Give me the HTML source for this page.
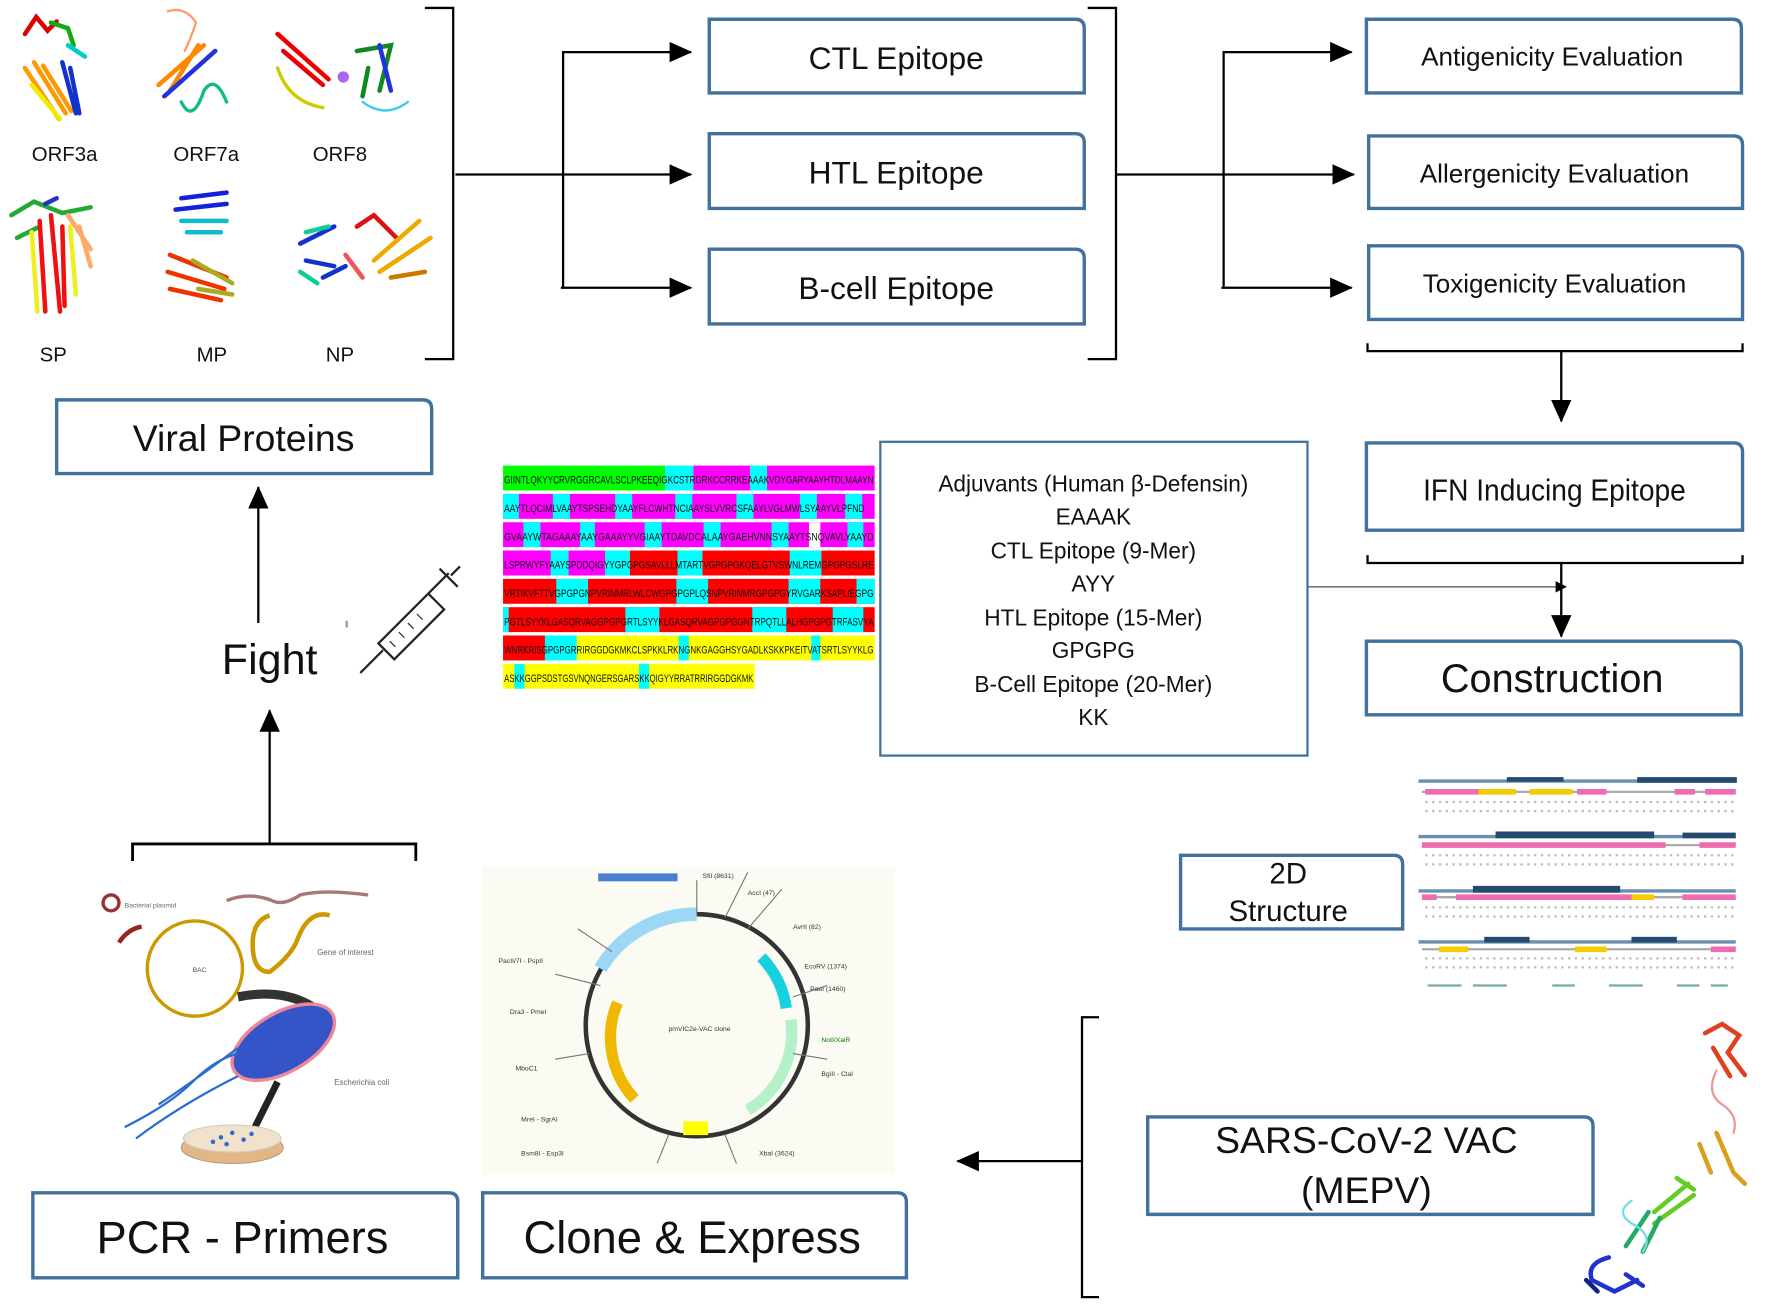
<!DOCTYPE html>
<html><head><meta charset="utf-8"><style>
html,body{margin:0;padding:0;background:#fff}
svg{display:block}
text{font-family:"Liberation Sans",sans-serif;fill:#111}
</style></head><body>
<svg width="1772" height="1305" viewBox="0 0 1564 1152" preserveAspectRatio="none" xmlns="http://www.w3.org/2000/svg">
<defs>
<marker id="ah" markerWidth="10" markerHeight="10" refX="9" refY="5" orient="auto" markerUnits="userSpaceOnUse"><path d="M0,0 L10,5 L0,10Z" fill="#000"/></marker>
<marker id="AH" markerWidth="20" markerHeight="20" refX="19" refY="10" orient="auto" markerUnits="userSpaceOnUse"><path d="M0,1 L20,10 L0,19Z" fill="#000"/></marker>
</defs>
<g fill="#fff" stroke="#41719c" stroke-width="3">
<path d="M626,17 H949 Q957,17 957,25 V82 H626Z"/>
<path d="M626,118 H949 Q957,118 957,126 V184 H626Z"/>
<path d="M626,220 H949 Q957,220 957,228 V286 H626Z"/>
<path d="M1206,17 H1529 Q1537,17 1537,25 V82 H1206Z"/>
<path d="M1208,120 H1530 Q1538,120 1538,128 V184 H1208Z"/>
<path d="M1208,217 H1530 Q1538,217 1538,225 V282 H1208Z"/>
<path d="M1206,391 H1530 Q1538,391 1538,399 V468 H1206Z"/>
<path d="M1206,566 H1529 Q1537,566 1537,574 V631 H1206Z"/>
<path d="M50,353 H373 Q381,353 381,361 V418 H50Z"/>
<rect x="777" y="390" width="377" height="277" stroke-width="2"/>
<path d="M1042,755 H1230 Q1238,755 1238,763 V820 H1042Z"/>
<path d="M1013,986 H1398 Q1406,986 1406,994 V1072 H1013Z"/>
<path d="M29,1053 H396 Q404,1053 404,1061 V1128 H29Z"/>
<path d="M426,1053 H792 Q800,1053 800,1061 V1128 H426Z"/>
</g>
<g text-anchor="middle">
<text x="791" y="61" font-size="28">CTL Epitope</text>
<text x="791" y="162" font-size="28">HTL Epitope</text>
<text x="791" y="264" font-size="28">B-cell Epitope</text>
<text x="1370" y="58" font-size="23">Antigenicity Evaluation</text>
<text x="1372" y="161" font-size="23">Allergenicity Evaluation</text>
<text x="1372" y="258" font-size="23">Toxigenicity Evaluation</text>
<text x="1372" y="442" font-size="27" transform="translate(1372 0) scale(0.92 1) translate(-1372 0)">IFN Inducing Epitope</text>
<text x="1370" y="611" font-size="35">Construction</text>
<text x="215" y="398" font-size="33">Viral Proteins</text>
<text x="238" y="595" font-size="38">Fight</text>
<text x="1137" y="780" font-size="26">2D</text>
<text x="1137" y="813" font-size="26">Structure</text>
<text x="1206" y="1018" font-size="33">SARS-CoV-2 VAC</text>
<text x="1206" y="1062" font-size="33">(MEPV)</text>
<text x="214" y="1106" font-size="40">PCR - Primers</text>
<text x="611" y="1106" font-size="40">Clone &amp; Express</text>
<g font-size="20">
<text x="965" y="434" font-family="Liberation Serif">Adjuvants (Human β-Defensin)</text>
<text x="965" y="463">EAAAK</text>
<text x="965" y="493">CTL Epitope (9-Mer)</text>
<text x="965" y="522">AYY</text>
<text x="965" y="552">HTL Epitope (15-Mer)</text>
<text x="965" y="581">GPGPG</text>
<text x="965" y="611">B-Cell Epitope (20-Mer)</text>
<text x="965" y="640">KK</text>
</g>
<g font-size="18">
<text x="57" y="142">ORF3a</text><text x="182" y="142">ORF7a</text><text x="300" y="142">ORF8</text>
<text x="47" y="319">SP</text><text x="187" y="319">MP</text><text x="300" y="319">NP</text>
</g>
</g>
<!-- connectors -->
<g stroke="#000" stroke-width="2" fill="none">
<path d="M375,7 H400 V317 H375"/>
<path d="M402,154 H610" marker-end="url(#AH)"/>
<path d="M497,45 V254"/>
<path d="M497,46 H610" marker-end="url(#AH)"/>
<path d="M495,254 H610" marker-end="url(#AH)"/>
<path d="M960,7 H985 V317 H960"/>
<path d="M985,154 H1195" marker-end="url(#AH)"/>
<path d="M1080,45 V253"/>
<path d="M1080,46 H1193" marker-end="url(#AH)"/>
<path d="M1078,254 H1193" marker-end="url(#AH)"/>
<path d="M1207,303 V310 H1538 V303"/>
<path d="M1378,310 V372" marker-end="url(#AH)"/>
<path d="M1207,490 V497 H1538 V490"/>
<path d="M1378,497 V562" marker-end="url(#AH)"/>
<path d="M1155,518 H1382" stroke="#777" stroke-width="1.5" marker-end="url(#ah)"/>
<path d="M228,550 V430" marker-end="url(#AH)"/>
<path d="M238,745 V627" marker-end="url(#AH)"/>
<path d="M117,760 V745 H367 V760" stroke-width="2.5"/>
<path d="M970,898 H955 V1145 H970"/>
<path d="M955,1025 H845" marker-end="url(#AH)"/>
</g>
<!-- sequence block -->
<g>
<rect x="444" y="411" width="143" height="22" fill="#0f0"/><rect x="587" y="411" width="25" height="22" fill="#0ff"/><rect x="612" y="411" width="50" height="22" fill="#f0f"/><rect x="662" y="411" width="15" height="22" fill="#0ff"/><rect x="677" y="411" width="95" height="22" fill="#f0f"/>
<rect x="444" y="436" width="328" height="22" fill="#f0f"/>
<rect x="444" y="436" width="14" height="22" fill="#0ff"/><rect x="488" y="436" width="15" height="22" fill="#0ff"/><rect x="543" y="436" width="15" height="22" fill="#0ff"/><rect x="596" y="436" width="15" height="22" fill="#0ff"/><rect x="650" y="436" width="15" height="22" fill="#0ff"/><rect x="706" y="436" width="15" height="22" fill="#0ff"/><rect x="746" y="436" width="15" height="22" fill="#0ff"/>
<rect x="444" y="461" width="328" height="22" fill="#f0f"/>
<rect x="462" y="461" width="15" height="22" fill="#0ff"/><rect x="512" y="461" width="13" height="22" fill="#0ff"/><rect x="569" y="461" width="15" height="22" fill="#0ff"/><rect x="621" y="461" width="15" height="22" fill="#0ff"/><rect x="681" y="461" width="15" height="22" fill="#0ff"/><rect x="714" y="461" width="10" height="22" fill="#fff"/><rect x="748" y="461" width="14" height="22" fill="#0ff"/>
<rect x="444" y="486" width="328" height="22" fill="#f00"/>
<rect x="444" y="486" width="42" height="22" fill="#f0f"/><rect x="486" y="486" width="16" height="22" fill="#0ff"/><rect x="502" y="486" width="32" height="22" fill="#f0f"/><rect x="534" y="486" width="22" height="22" fill="#0ff"/><rect x="598" y="486" width="22" height="22" fill="#0ff"/><rect x="697" y="486" width="28" height="22" fill="#0ff"/>
<rect x="444" y="511" width="328" height="22" fill="#f00"/>
<rect x="491" y="511" width="28" height="22" fill="#0ff"/><rect x="597" y="511" width="28" height="22" fill="#0ff"/><rect x="696" y="511" width="28" height="22" fill="#0ff"/><rect x="756" y="511" width="16" height="22" fill="#0ff"/>
<rect x="444" y="536" width="328" height="22" fill="#f00"/>
<rect x="444" y="536" width="5" height="22" fill="#0ff"/><rect x="552" y="536" width="30" height="22" fill="#0ff"/><rect x="664" y="536" width="30" height="22" fill="#0ff"/><rect x="735" y="536" width="27" height="22" fill="#0ff"/>
<rect x="444" y="561" width="328" height="22" fill="#ff0"/>
<rect x="444" y="561" width="37" height="22" fill="#f00"/><rect x="481" y="561" width="28" height="22" fill="#0ff"/><rect x="599" y="561" width="9" height="22" fill="#0ff"/><rect x="716" y="561" width="8" height="22" fill="#0ff"/>
<rect x="444" y="586" width="222" height="22" fill="#ff0"/>
<rect x="454" y="586" width="9" height="22" fill="#0ff"/><rect x="564" y="586" width="9" height="22" fill="#0ff"/>
<g font-size="10" font-family="Liberation Sans Narrow,Liberation Sans,sans-serif" textLength="326">
<text x="445" y="427" textLength="326" lengthAdjust="spacingAndGlyphs">GIINTLQKYYCRVRGGRCAVLSCLPKEEQIGKCSTRGRKCCRRKEAAAKVDYGARYAAYHTDLMAAYN</text>
<text x="445" y="452" textLength="318" lengthAdjust="spacingAndGlyphs">AAYTLQCIMLVAAYTSPSEHDYAAYFLCWHTNCIAAYSLVVRCSFAAYLVGLMWLSYAAYVLPFND</text>
<text x="445" y="477" textLength="326" lengthAdjust="spacingAndGlyphs">GVAAYWTAGAAAYAAYGAAAYYVGIAAYTDAVDCALAAYGAEHVNNSYAAYTSNQVAVLYAAYD</text>
<text x="445" y="502" textLength="326" lengthAdjust="spacingAndGlyphs">LSPRWYFYAAYSPDDQIGYYGPGPGSAVLLLMTARTVGPGPGKQELGTVSWNLREMGPGPGSLRE</text>
<text x="445" y="527" textLength="326" lengthAdjust="spacingAndGlyphs">VRTIKVFTTVGPGPGNPVRINMRLWLCWGPGPGPLQSNPVRINMRGPGPGYRVGARKSAPLIEGPG</text>
<text x="445" y="552" textLength="326" lengthAdjust="spacingAndGlyphs">PGTLSYYKLGASQRVAGGPGPGRTLSYYKLGASQRVAGPGPGGNTRPQTLLALHGPGPGTRFASVYA</text>
<text x="445" y="577" textLength="326" lengthAdjust="spacingAndGlyphs">WNRKRISGPGPGRRIRGGDGKMKCLSPKKLRKNGNKGAGGHSYGADLKSKKPKEITVATSRTLSYYKLG</text>
<text x="445" y="602" textLength="220" lengthAdjust="spacingAndGlyphs">ASKKGGPSDSTGSVNQNGERSGARSKKQIGYYRRATRRIRGGDGKMK</text>
</g>
</g>
<!-- syringe -->
<g stroke="#222" stroke-width="2" fill="none">
<path d="M318,594 L338,574"/>
<path d="M334,568 L378,524 L392,538 L348,582Z" fill="#fff"/>
<path d="M378,524 L396,506 M388,502 L404,518 M398,508 L406,500"/>
<path d="M344,566 l5,5 M352,558 l5,5 M360,550 l5,5 M368,542 l5,5" stroke-width="1"/>
<path d="M306,548 v6" stroke="#999"/>
</g>
<!-- protein art (approx) -->
<g fill="none" stroke-width="4" stroke-linecap="round">
<path d="M22,30 l10,-15 l10,12 l8,-8" stroke="#d00"/>
<path d="M45,20 l15,5 l5,15" stroke="#1a1"/>
<path d="M22,60 l30,45 M30,55 l28,45 M38,58 l25,40" stroke="#f90"/>
<path d="M28,75 l25,30" stroke="#ee0"/>
<path d="M55,55 l12,45 M62,60 l8,40" stroke="#13c"/>
<path d="M60,40 l15,10" stroke="#0cc"/>
<path d="M148,10 q15,-5 25,10 q-5,15 -10,25" stroke="#f96" stroke-width="2"/>
<path d="M140,75 l40,-35 M150,80 l25,-40" stroke="#f80"/>
<path d="M145,85 l45,-40" stroke="#23d"/>
<path d="M160,90 q10,20 20,-10 q10,-15 20,10" stroke="#1b8" stroke-width="3"/>
<path d="M245,30 l45,40 M250,45 l35,30" stroke="#e00"/>
<path d="M245,60 q10,30 40,35" stroke="#cc0" stroke-width="3"/>
<path d="M315,45 l30,-5 l-10,40 M325,60 l-5,25" stroke="#182"/>
<path d="M335,40 l10,40" stroke="#23d"/>
<path d="M320,90 q20,15 40,0" stroke="#3ce" stroke-width="2"/>
<circle cx="303" cy="68" r="5" fill="#a6e" stroke="none"/>
<path d="M10,190 l20,-12 l25,10 l25,-5 M15,210 l20,-10" stroke="#2a3"/>
<path d="M35,195 l5,80 M45,190 l8,85 M55,200 l2,70" stroke="#e11"/>
<path d="M28,205 l5,70 M62,200 l5,60" stroke="#ee2"/>
<path d="M60,190 l20,30 M70,200 l10,35" stroke="#fa6"/>
<path d="M40,180 l10,-5" stroke="#23c"/>
<path d="M160,175 l40,-5 M155,185 l45,-5" stroke="#12d"/>
<path d="M160,195 l40,0 M165,205 l30,0" stroke="#1bc"/>
<path d="M150,225 l50,20 M148,240 l50,15 M150,255 l45,10" stroke="#e30"/>
<path d="M170,230 l35,20 M175,255 l30,5" stroke="#aa2"/>
<path d="M265,215 l30,-15 M270,230 l25,5 M285,245 l20,-10" stroke="#13c"/>
<path d="M265,240 l15,10 M290,200 l-20,5" stroke="#1c9"/>
<path d="M315,200 l15,-10 l20,20" stroke="#d11"/>
<path d="M330,230 l40,-35 M335,240 l45,-30" stroke="#ea0"/>
<path d="M345,245 l30,-5" stroke="#c70"/>
<path d="M305,225 l15,20" stroke="#e55"/>
</g>
<!-- bacteria image -->
<g fill="none">
<circle cx="98" cy="797" r="7" stroke="#933" stroke-width="3"/>
<text x="110" y="801" font-size="6" fill="#666" style="fill:#666">Bacterial plasmid</text>
<path d="M200,795 q20,-8 40,0 q10,5 25,-5 q20,-5 60,0" stroke="#a77" stroke-width="3"/>
<path d="M105,832 q8,-12 20,-14" stroke="#922" stroke-width="4"/>
<circle cx="172" cy="855" r="42" stroke="#c90" stroke-width="3"/>
<path d="M238,808 q-15,5 -15,25 q0,25 15,25 q20,-15 25,-30 q10,-25 28,-20" stroke="#c90" stroke-width="4"/>
<text x="170" y="858" font-size="6" style="fill:#555">BAC</text>
<path d="M210,880 q50,-10 80,20" stroke="#333" stroke-width="8"/>
<ellipse cx="250" cy="920" rx="50" ry="26" transform="rotate(-30 250 920)" fill="#3554c8" stroke="#e89" stroke-width="3"/>
<path d="M110,995 q40,-20 60,-40 q20,-20 40,-25 M120,1005 q40,-30 90,-55 M140,975 q30,-20 70,-50" stroke="#2a6dd0" stroke-width="2"/>
<path d="M245,955 q-20,40 -30,60" stroke="#222" stroke-width="6"/>
<ellipse cx="205" cy="1013" rx="45" ry="14" fill="#e3b685" stroke="#b98" stroke-width="1"/>
<ellipse cx="205" cy="1005" rx="43" ry="12" fill="#f2e2cc" stroke="#ccc" stroke-width="1"/>
<g fill="#2a6dd0"><circle cx="195" cy="1004" r="2"/><circle cx="205" cy="1000" r="2"/><circle cx="215" cy="1006" r="2"/><circle cx="200" cy="1010" r="2"/><circle cx="222" cy="1001" r="2"/><circle cx="188" cy="1008" r="2"/></g>
<text x="295" y="958" font-size="7" style="fill:#666">Escherichia coli</text>
<text x="280" y="843" font-size="7" style="fill:#666">Gene of interest</text>
</g>
<!-- plasmid -->
<rect x="425" y="765" width="365" height="272" fill="#fbfbf4"/>
<g fill="none">
<circle cx="615" cy="905" r="98" stroke="#333" stroke-width="4"/>
<path d="M530,855 A98,98 0 0 1 615,807" stroke="#9cd8f5" stroke-width="12"/>
<path d="M672,845 A80,80 0 0 1 694,890" stroke="#16d2e0" stroke-width="10"/>
<path d="M698,900 A80,80 0 0 1 660,980" stroke="#b4f0c8" stroke-width="10"/>
<path d="M545,885 A80,80 0 0 0 560,970" stroke="#f0b800" stroke-width="10"/>
<rect x="603" y="990" width="22" height="12" fill="#ff0"/>
<g stroke="#777" stroke-width="1"><path d="M615,807 l0,-30 M640,810 l20,-40 M660,820 l30,-35 M540,840 l-30,-20 M530,870 l-40,-10 M520,930 l-30,5 M700,930 l30,5 M700,880 l30,-10 M640,1002 l10,25 M590,1002 l-10,25"/></g>
<g font-size="6" style="fill:#333">
<text x="620" y="775" style="fill:#333">SfiI (8631)</text><text x="660" y="790" style="fill:#333">AccI (47)</text><text x="700" y="820" style="fill:#333">AvrII (82)</text><text x="710" y="855" style="fill:#333">EcoRV (1374)</text><text x="715" y="875" style="fill:#333">PaeI (1460)</text><text x="725" y="920" style="fill:#070">NotI/XaiR</text><text x="725" y="950" style="fill:#333">BgiII - ClaI</text><text x="670" y="1020" style="fill:#333">XbaI (3624)</text><text x="440" y="850" style="fill:#333">PacII/7I - PspII</text><text x="450" y="895" style="fill:#333">Dra3 - PmeI</text><text x="455" y="945" style="fill:#333">MboC1</text><text x="460" y="990" style="fill:#333">MreI - SgrAI</text><text x="460" y="1020" style="fill:#333">Bsm8I - Esp3I</text><text x="590" y="910" style="fill:#333">pmVIC2e-VAC clone</text>
</g>
<rect x="528" y="771" width="70" height="7" fill="#4a7fd0"/>
</g>
<!-- 2D structure alignment -->
<g>
<g fill="#244a70">
<rect x="1252" y="688" width="280" height="3" fill="#6a8fb0"/><rect x="1445" y="686" width="88" height="5"/><rect x="1330" y="686" width="50" height="4"/>
<rect x="1252" y="737" width="280" height="3" fill="#6a8fb0"/><rect x="1320" y="734" width="140" height="6"/><rect x="1485" y="735" width="47" height="5"/>
<rect x="1252" y="785" width="280" height="3" fill="#6a8fb0"/><rect x="1300" y="782" width="130" height="6"/>
<rect x="1252" y="830" width="280" height="3" fill="#6a8fb0"/><rect x="1310" y="827" width="40" height="5"/><rect x="1440" y="827" width="40" height="5"/>
</g>
<g stroke-width="5">
<path d="M1255,699 H1532" stroke="#aaa" stroke-width="2"/>
<path d="M1258,699 H1305 M1392,699 H1418 M1478,699 H1496 M1505,699 H1532" stroke="#f06ab0"/>
<path d="M1305,699 H1338 M1350,699 H1388" stroke="#f5cc00"/>
<path d="M1255,746 H1532" stroke="#aaa" stroke-width="2"/>
<path d="M1255,746 H1470 M1500,746 H1532" stroke="#f06ab0"/>
<path d="M1255,792 H1532" stroke="#aaa" stroke-width="2"/>
<path d="M1255,792 H1268 M1285,792 H1440 M1485,792 H1532" stroke="#f06ab0"/>
<path d="M1440,792 H1460" stroke="#f5cc00"/>
<path d="M1255,838 H1532" stroke="#aaa" stroke-width="2"/>
<path d="M1270,838 H1296 M1390,838 H1418" stroke="#f5cc00"/>
<path d="M1510,838 H1532" stroke="#f06ab0"/>
</g>
<g stroke="#bbb" stroke-width="2" stroke-dasharray="2 4">
<path d="M1258,708 H1532 M1258,716 H1532 M1258,755 H1532 M1258,763 H1532 M1258,801 H1532 M1258,809 H1532 M1258,846 H1532 M1258,854 H1532"/>
</g>
<path d="M1260,870 H1290 M1300,870 H1330 M1370,870 H1390 M1420,870 H1450 M1480,870 H1500 M1510,870 H1525" stroke="#7aa" stroke-width="2"/>
</g>
<!-- 3D vaccine protein -->
<g fill="none" stroke-width="4" stroke-linecap="round">
<path d="M1505,912 l15,-8 l15,10 l-10,15 l15,20 M1512,925 l15,25" stroke="#e04020"/>
<path d="M1515,945 q-10,20 5,30 q15,10 10,25" stroke="#e99" stroke-width="2"/>
<path d="M1500,1010 l10,25 M1515,1000 l15,35 l10,10" stroke="#d9a020"/>
<path d="M1490,1045 l-30,25 M1495,1055 l-35,25 M1480,1040 l15,10" stroke="#6c2"/>
<path d="M1455,1070 l-20,30 M1465,1075 l-15,30" stroke="#2a6"/>
<path d="M1440,1060 q-15,10 0,20 q20,10 10,25" stroke="#7dd" stroke-width="2"/>
<path d="M1420,1110 q-20,5 -15,20 l20,10 l20,-10 M1435,1125 l15,10" stroke="#23c"/>
<path d="M1400,1130 l10,10" stroke="#128"/>
</g>
</svg>
</body></html>
